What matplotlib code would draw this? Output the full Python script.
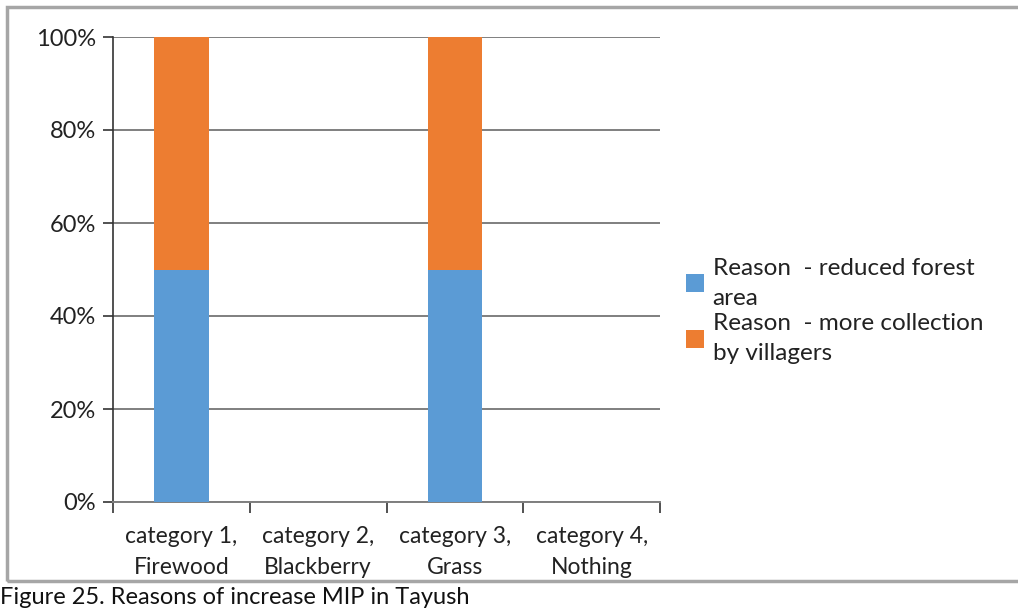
import numpy as np
import matplotlib.pyplot as plt
from matplotlib.patches import Rectangle, Patch

plt.rcParams['font.family'] = ['Lato', 'DejaVu Sans']

categories = ['category 1,\nFirewood', 'category 2,\nBlackberry',
              'category 3,\nGrass', 'category 4,\nNothing']
reduced_forest = [50, 0, 50, 0]
more_collection = [50, 0, 50, 0]
series_names = ['Reason  - reduced forest\narea',
                'Reason  - more collection\nby villagers']
yticks = [0, 20, 40, 60, 80, 100]

blue = '#5b9bd5'
orange = '#ed7d31'
W, H = 1018, 608

fig = plt.figure(figsize=(W / 100, H / 100), dpi=100)
ax = fig.add_axes([113 / W, (H - 502) / H, (660 - 113) / W, (502 - 37) / H])

x = np.arange(len(categories))
ax.bar(x, reduced_forest, width=0.4, color=blue, zorder=3)
ax.bar(x, more_collection, width=0.4, bottom=reduced_forest, color=orange, zorder=3)

ax.set_xlim(-0.5, len(categories) - 0.5)
ax.set_ylim(0, 100)
ax.set_yticks(yticks)
ax.set_yticklabels([f'{v}%' for v in yticks], fontsize=17, color='#222222')
ax.set_xticks(np.arange(len(categories) + 1) - 0.5, minor=False)
ax.set_xticklabels([])
ax.set_xticks(x, minor=True)
ax.set_xticklabels(categories, minor=True, fontsize=16.5, color='#222222',
                   linespacing=1.6)
ax.tick_params(axis='x', which='major', length=8, width=1.2, color='#333333')
ax.tick_params(axis='x', which='minor', length=0, pad=17)
ax.tick_params(axis='y', length=7, width=1.2, color='#333333', pad=5)

ax.grid(axis='y', color='#7f7f7f', linewidth=1.4, zorder=0)
for side in ['top', 'right']:
    ax.spines[side].set_visible(False)
ax.spines['left'].set_color('#333333')
ax.spines['left'].set_linewidth(1.2)
ax.spines['bottom'].set_color('#7f7f7f')
ax.spines['bottom'].set_linewidth(1.4)

handles = [Patch(facecolor=blue), Patch(facecolor=orange)]
leg = fig.legend(handles, series_names, loc='center left',
                 bbox_to_anchor=(686 / W, 1 - 311 / H), frameon=False,
                 fontsize=17.5, handlelength=0.75, handleheight=0.75,
                 handletextpad=0.35, labelspacing=0.2, borderaxespad=0,
                 borderpad=0)
for t in leg.get_texts():
    t.set_linespacing(1.5)
    t.set_color('#222222')

# outer frame around the chart
fig.patches.append(Rectangle((7 / W, (H - 581) / H), 1.1, 574 / H,
                             transform=fig.transFigure, fill=False,
                             edgecolor='#a6a6a6', linewidth=2.5))

fig.text(0.0, 0.0, 'Figure 25. Reasons of increase MIP in Tayush',
         fontsize=17, color='#111111', ha='left', va='bottom')

fig.savefig('out.png', dpi=100)
